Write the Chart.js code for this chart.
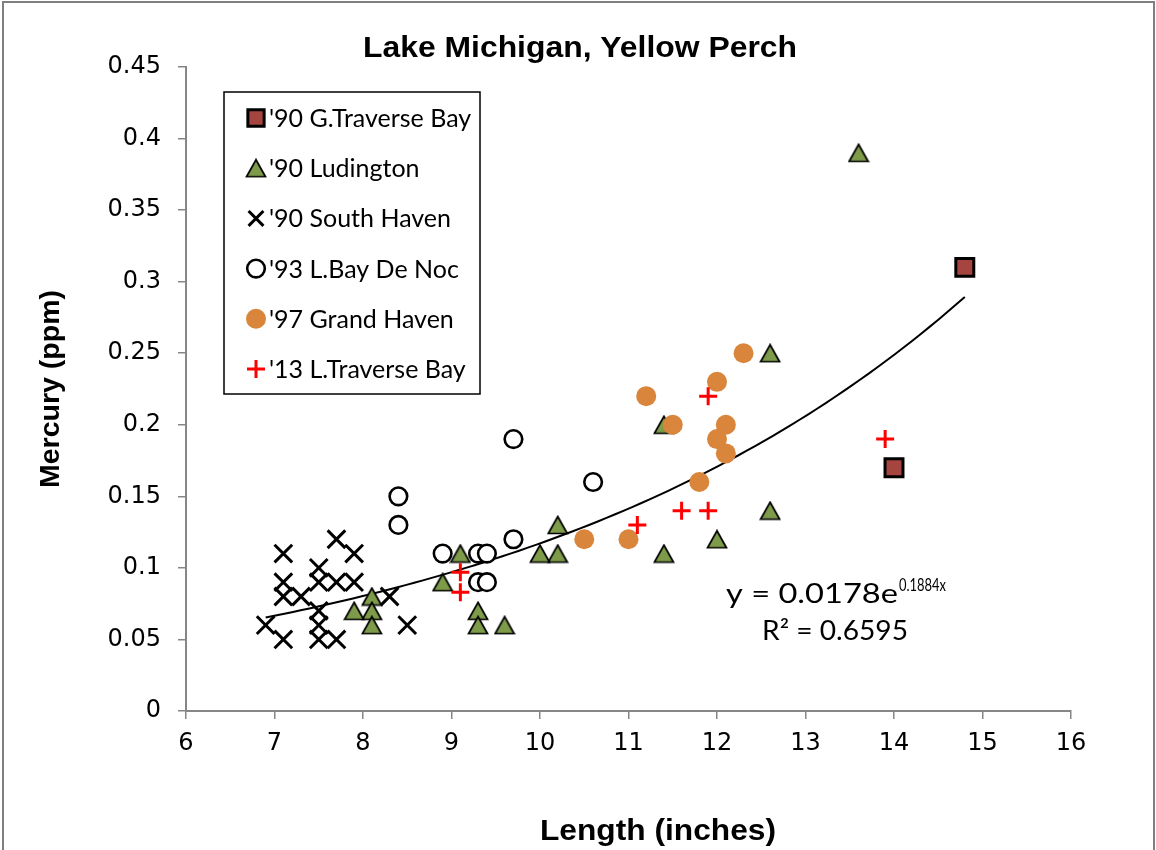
<!DOCTYPE html>
<html>
<head>
<meta charset="utf-8">
<script src="https://cdn.jsdelivr.net/npm/chart.js@4.4.1/dist/chart.umd.min.js"></script>
<style>
  html, body { margin: 0; padding: 0; background: #fff; }
  #wrap { width: 1156px; height: 850px; }
</style>
</head>
<body>
<div id="wrap"><canvas id="chart" width="1156" height="850"></canvas></div>
<script>
// Данные (длина в дюймах, ртуть в ppm)
const seriesNames = ["'90 G.Traverse Bay", "'90 Ludington", "'90 South Haven", "'93 L.Bay De Noc", "'97 Grand Haven", "'13 L.Traverse Bay"];

const gTraverseLength = [14.8, 14.0];
const gTraverseMercury = [0.31, 0.17];

const ludingtonLength = [13.6, 12.6, 12.6, 12.0, 11.4, 11.4, 10.2, 10.2, 10.0, 9.6, 9.3, 9.3, 9.1, 8.9, 8.1, 8.1, 8.1, 7.9];
const ludingtonMercury = [0.39, 0.25, 0.14, 0.12, 0.20, 0.11, 0.13, 0.11, 0.11, 0.06, 0.07, 0.06, 0.11, 0.09, 0.08, 0.07, 0.06, 0.07];

const southHavenLength = [6.9, 7.1, 7.1, 7.1, 7.1, 7.3, 7.5, 7.5, 7.5, 7.5, 7.5, 7.7, 7.7, 7.7, 7.9, 7.9, 8.3, 8.5];
const southHavenMercury = [0.06, 0.11, 0.09, 0.08, 0.05, 0.08, 0.10, 0.09, 0.07, 0.06, 0.05, 0.12, 0.09, 0.05, 0.11, 0.09, 0.08, 0.06];

const bayDeNocLength = [8.4, 8.4, 8.9, 9.3, 9.4, 9.3, 9.4, 9.7, 9.7, 10.6];
const bayDeNocMercury = [0.15, 0.13, 0.11, 0.11, 0.11, 0.09, 0.09, 0.12, 0.19, 0.16];

const grandHavenLength = [10.5, 11.0, 11.2, 11.5, 11.8, 12.0, 12.0, 12.1, 12.1, 12.3];
const grandHavenMercury = [0.12, 0.12, 0.22, 0.20, 0.16, 0.23, 0.19, 0.20, 0.18, 0.25];

const lTraverseLength = [9.1, 9.1, 11.1, 11.6, 11.9, 11.9, 13.9];
const lTraverseMercury = [0.097, 0.083, 0.13, 0.14, 0.14, 0.22, 0.19];

// Экспоненциальный тренд из подписи на графике
const trendA = 0.0178;
const trendB = 0.1884;
const trendFrom = 6.9;
const trendTo = 14.8;

const xTickLabels = ["6", "7", "8", "9", "10", "11", "12", "13", "14", "15", "16"];
const yTickLabels = ["0", "0.05", "0.1", "0.15", "0.2", "0.25", "0.3", "0.35", "0.4", "0.45"];

const toPoints = (xs, ys) => xs.map((x, i) => ({ x: x, y: ys[i] }));

// Точки линии тренда по формуле y = a*e^(bx)
const trendPoints = [];
for (let i = 0; i <= 80; i++) {
  const x = trendFrom + (trendTo - trendFrom) * i / 80;
  trendPoints.push({ x: x, y: trendA * Math.exp(trendB * x) });
}

// Треугольник как в Excel: центр по габариту, а не по описанной окружности
function makeTriangle() {
  const c = document.createElement("canvas");
  c.width = 22;
  c.height = 20;
  const g = c.getContext("2d");
  g.beginPath();
  g.moveTo(11, 1.5);
  g.lineTo(20.5, 18.5);
  g.lineTo(1.5, 18.5);
  g.closePath();
  g.fillStyle = "#7E9B4A";
  g.fill();
  g.lineWidth = 1.7;
  g.lineJoin = "miter";
  g.strokeStyle = "#000000";
  g.stroke();
  return c;
}
const triangleImg = makeTriangle();

const markers = [
  { pointStyle: "rect", radius: 12.7, borderWidth: 3, bg: "#A64440", border: "#000000" },
  { pointStyle: triangleImg, radius: 10, borderWidth: 0, bg: "#7E9B4A", border: "#000000" },
  { pointStyle: "crossRot", radius: 12.5, borderWidth: 3, bg: "#000000", border: "#000000" },
  { pointStyle: "circle", radius: 8.8, borderWidth: 2.6, bg: "#FFFFFF", border: "#000000" },
  { pointStyle: "circle", radius: 10, borderWidth: 0, bg: "#D9853B", border: "#D9853B" },
  { pointStyle: "cross", radius: 9, borderWidth: 3, bg: "#FF0000", border: "#FF0000" },
];

const seriesData = [
  toPoints(gTraverseLength, gTraverseMercury),
  toPoints(ludingtonLength, ludingtonMercury),
  toPoints(southHavenLength, southHavenMercury),
  toPoints(bayDeNocLength, bayDeNocMercury),
  toPoints(grandHavenLength, grandHavenMercury),
  toPoints(lTraverseLength, lTraverseMercury),
];

const datasets = seriesData.map((pts, i) => ({
  type: "scatter",
  label: seriesNames[i],
  data: pts,
  pointStyle: markers[i].pointStyle,
  pointRadius: markers[i].radius,
  pointBorderWidth: markers[i].borderWidth,
  pointBackgroundColor: markers[i].bg,
  pointBorderColor: markers[i].border,
  order: seriesNames.length - i, // последняя серия рисуется сверху
}));

datasets.push({
  type: "line",
  label: "trend",
  data: trendPoints,
  borderColor: "#000000",
  borderWidth: 2,
  pointRadius: 0,
  tension: 0,
  fill: false,
  order: 10,
});

// Растянутый по горизонтали текст под заданную ширину
function fitText(ctx, text, x, y, width, align) {
  const w = ctx.measureText(text).width;
  ctx.save();
  ctx.translate(x, y);
  ctx.scale(width / w, 1);
  ctx.textAlign = align;
  ctx.fillText(text, 0, 0);
  ctx.restore();
}

const frameAndText = {
  id: "frameAndText",
  beforeDraw(chart) {
    const ctx = chart.ctx;
    ctx.save();
    ctx.fillStyle = "#FFFFFF";
    ctx.fillRect(0, 0, chart.width, chart.height);
    ctx.strokeStyle = "#7F7F7F";
    ctx.lineWidth = 2;
    ctx.strokeRect(3, 2, chart.width - 5, chart.height + 10);
    ctx.restore();
  },
  afterDraw(chart) {
    const ctx = chart.ctx;
    const area = chart.chartArea;
    ctx.save();
    ctx.fillStyle = "#000000";
    ctx.textBaseline = "alphabetic";

    // заголовок
    ctx.font = "bold 30px 'Liberation Sans', Arial";
    fitText(ctx, "Lake Michigan, Yellow Perch", 580, 57, 434, "center");

    // подпись оси X
    fitText(ctx, "Length (inches)", 658, 840, 236, "center");

    // уравнение тренда
    ctx.font = "26px Lato";
    fitText(ctx, "y = 0.0178e", 726, 603, 172, "left");
    ctx.font = "17px Lato";
    fitText(ctx, "0.1884x", 899, 591, 47, "left");
    ctx.font = "26px Lato";
    fitText(ctx, "R² = 0.6595", 762, 640, 146, "left");

    // легенда в рамке
    const bx = area.left + 38, by = area.top + 25, bw = 256, bh = 302;
    ctx.fillStyle = "#FFFFFF";
    ctx.fillRect(bx, by, bw, bh);
    ctx.strokeStyle = "#000000";
    ctx.lineWidth = 1.5;
    ctx.strokeRect(bx, by, bw, bh);

    ctx.font = "25px Lato";
    ctx.textBaseline = "middle";
    seriesNames.forEach((name, i) => {
      const m = markers[i];
      const y = by + 26 + i * 50.2;
      ctx.fillStyle = m.bg;
      ctx.strokeStyle = m.border;
      ctx.lineWidth = m.borderWidth;
      let r = m.radius;
      if (m.pointStyle === "crossRot") r = 10.5;
      if (m.pointStyle === "rect") r = 11.5;
      Chart.helpers.drawPoint(ctx, {
        pointStyle: m.pointStyle,
        radius: r,
        rotation: 0,
        borderWidth: m.borderWidth,
      }, bx + 32, y);
      ctx.fillStyle = "#000000";
      ctx.textAlign = "left";
      ctx.fillText(name, bx + 45, y + 1);
    });
    ctx.restore();
  },
};

const axisGrey = "#868686";
const tickFont = { size: 24, family: "'DejaVu Sans', Arial" };

new Chart(document.getElementById("chart"), {
  data: { datasets: datasets },
  options: {
    responsive: false,
    animation: false,
    devicePixelRatio: 1,
    events: [],
    layout: { padding: { top: 67, right: 85, left: 0, bottom: 0 } },
    plugins: {
      legend: { display: false },
      tooltip: { enabled: false },
      title: { display: false },
    },
    scales: {
      x: {
        type: "linear",
        min: 6,
        max: 16,
        afterFit: (scale) => { scale.height = 850 - 711; },
        grid: {
          drawOnChartArea: false,
          drawTicks: true,
          tickLength: 8,
          color: axisGrey,
          lineWidth: 1.5,
        },
        border: { display: true, color: axisGrey, width: 2 },
        ticks: {
          stepSize: 1,
          padding: 10,
          color: "#000000",
          font: tickFont,
          callback: (value, index) => xTickLabels[index],
        },
      },
      y: {
        type: "linear",
        min: 0,
        max: 0.45,
        afterFit: (scale) => { scale.width = 186; },
        grid: {
          drawOnChartArea: false,
          drawTicks: true,
          tickLength: 8,
          color: axisGrey,
          lineWidth: 1.5,
        },
        border: { display: true, color: axisGrey, width: 2 },
        ticks: {
          stepSize: 0.05,
          padding: 17,
          color: "#000000",
          font: tickFont,
          callback: (value, index) => yTickLabels[index],
        },
        title: {
          display: true,
          text: "Mercury (ppm)",
          color: "#000000",
          font: { size: 28.5, weight: "bold", family: "'Liberation Sans', Arial" },
          padding: { top: 34, bottom: 0 },
        },
      },
    },
  },
  plugins: [frameAndText],
});
</script>
</body>
</html>
